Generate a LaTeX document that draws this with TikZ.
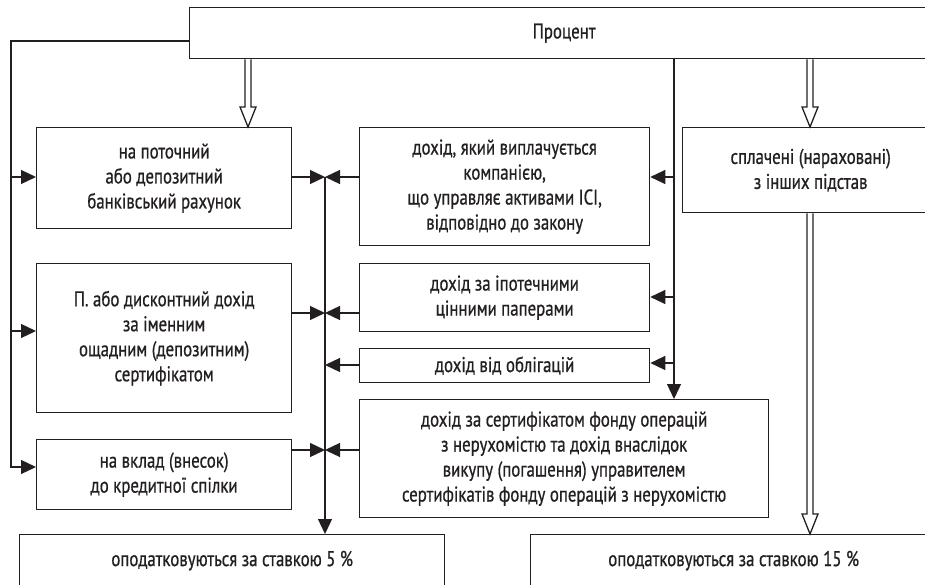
\documentclass[tikz,border=0pt]{standalone}
\usepackage{fontspec}
\setmainfont{PT Sans}[FakeStretch=0.79,FakeBold=0.7]
\usetikzlibrary{arrows.meta,calc}
\definecolor{ink}{RGB}{35,31,32}
\begin{document}
\begin{tikzpicture}[x=1pt,y=-1pt,
  font=\fontsize{21.3}{25}\selectfont,
  box/.style={draw=ink, line width=1.3pt, align=center, inner sep=0pt, text=ink, anchor=north west},
  arr/.style={draw=ink, line width=1.3pt, -{Triangle[length=15pt,width=14pt]}},
  hol/.style={draw=ink, line width=1.3pt, fill=white, line join=miter}]
\clip (0,0) rectangle (925,585);
% boxes
\node[box, minimum width=749pt, minimum height=51pt] (top) at (189,7) {Процент};
\node[box, minimum width=255pt, minimum height=101pt] (b1) at (36,127) {на поточний\\або депозитний\\банківський рахунок};
\node[box, minimum width=255pt, minimum height=149pt] (b2) at (36,263) {П. або дисконтний дохід\\за іменним\\ощадним (депозитним)\\сертифікатом};
\node[box, minimum width=255pt, minimum height=70pt] (b3) at (36,439) {на вклад (внесок)\\до кредитної спілки};
\node[box, minimum width=290pt, minimum height=118pt] (m1) at (359,127) {дохід, який виплачується\\компанією,\\що управляє активами ІСІ,\\відповідно до закону};
\node[box, minimum width=290pt, minimum height=68pt] (m2) at (359,263) {дохід за іпотечними\\цінними паперами};
\node[box, minimum width=290pt, minimum height=34pt] (m3) at (359,348) {дохід від облігацій};
\node[box, minimum width=409pt, minimum height=118pt] (m4) at (359,399) {дохід за сертифікатом фонду операцій\\з нерухомістю та дохід внаслідок\\викупу (погашення) управителем\\сертифікатів фонду операцій з нерухомістю};
\node[box, minimum width=256pt, minimum height=85pt] (r) at (682,127) {сплачені (нараховані)\\з інших підстав};
\node[box, minimum width=425pt, minimum height=52pt] (b5) at (19,534) {оподатковуються за ставкою 5 \%};
\node[box, minimum width=406pt, minimum height=52pt] (b15) at (530,534) {оподатковуються за ставкою 15 \%};
% junction coordinates
\coordinate (L0) at (11,41);
\coordinate (L1) at (11,177);
\coordinate (L2) at (11,331);
\coordinate (L3) at (11,467);
\coordinate (c1) at (325,177);
\coordinate (c2) at (325,313);
\coordinate (c3) at (325,365);
\coordinate (c4) at (325,450);
\coordinate (R1) at (674,177);
\coordinate (R2) at (674,297);
\coordinate (R3) at (674,363);
\coordinate (hx1) at (248,0);
\coordinate (hx2) at (810,0);
% left bus
\draw[arr] (top.west |- L0) -- (L0) -- (L3) -- (b3.west |- L3);
\draw[arr] (L1) -- (b1.west |- L1);
\draw[arr] (L2) -- (b2.west |- L2);
% central bus
\draw[arr] (b1.east |- c1) -- (c1);
\draw[arr] (b2.east |- c2) -- (c2);
\draw[arr] (b3.east |- c4) -- (c4);
\draw[arr] (m1.west |- c1) -- (c1);
\draw[arr] (m2.west |- c2) -- (c2);
\draw[arr] (m3.west |- c3) -- (c3);
\draw[arr] (m4.west |- c4) -- (c4);
\draw[arr] (c1) -- (c1 |- b5.north);
% right line
\draw[arr] (top.south -| R1) -- (R1 |- m4.north);
\draw[arr] (R1) -- (m1.east |- R1);
\draw[arr] (R2) -- (m2.east |- R2);
\draw[arr] (R3) -- (m3.east |- R3);
% hollow arrows
\draw[hol] ($(top.south -| hx1)+(-3,0)$) -- ($(b1.north -| hx1)+(-3,-20)$) -- ++(-5,0) -- (b1.north -| hx1) -- ++(8,-20) -- ++(-5,0) -- ($(top.south -| hx1)+(3,0)$);
\draw[hol] ($(top.south -| hx2)+(-3,0)$) -- ($(r.north -| hx2)+(-3,-20)$) -- ++(-5,0) -- (r.north -| hx2) -- ++(8,-20) -- ++(-5,0) -- ($(top.south -| hx2)+(3,0)$);
\draw[hol] ($(r.south -| hx2)+(-3,0)$) -- ($(b15.north -| hx2)+(-3,-20)$) -- ++(-5,0) -- (b15.north -| hx2) -- ++(8,-20) -- ++(-5,0) -- ($(r.south -| hx2)+(3,0)$);
\end{tikzpicture}
\end{document}
